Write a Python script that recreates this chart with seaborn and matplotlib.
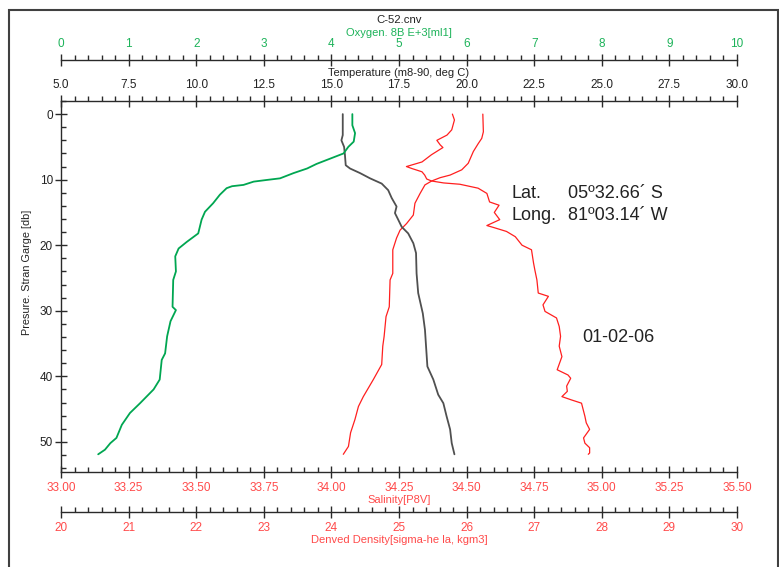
import matplotlib
matplotlib.use("Agg")
import matplotlib.pyplot as plt
from matplotlib.ticker import MultipleLocator, FormatStrFormatter
from matplotlib.patches import Rectangle
import seaborn as sns

# ---- profiles (pressure in db) ----
oxy_pres = [0, 1.7, 2.9, 4.2, 5.0, 6.0, 6.6, 7.0, 7.6, 8.3, 9.0, 9.8, 10.05, 10.3, 10.8, 11.0,
            11.3, 12.3, 13.6, 14.9, 16.1, 18.2, 19.5, 20.5, 21.7, 24.0, 25.3, 29.4, 29.9, 31.6,
            33.9, 36.5, 37.5, 40.5, 42.0, 44.1, 45.6, 47.4, 49.4, 50.2, 51.2, 51.9]
oxy_val = [4.31, 4.31, 4.35, 4.33, 4.25, 4.18, 4.03, 3.93, 3.78, 3.64, 3.44, 3.24, 3.04, 2.85,
           2.70, 2.53, 2.45, 2.35, 2.25, 2.13, 2.08, 2.03, 1.86, 1.74, 1.69, 1.70, 1.66, 1.65,
           1.70, 1.62, 1.57, 1.54, 1.49, 1.46, 1.37, 1.17, 1.02, 0.90, 0.82, 0.73, 0.65, 0.55]

temp_pres = [0, 3.2, 4.0, 5.0, 6.2, 7.8, 8.3, 9.0, 9.8, 10.6, 11.6, 12.8, 14.1, 15.1, 16.1, 17.2,
             18.2, 19.7, 21.2, 24.3, 27.3, 30.4, 32.9, 35.4, 38.5, 40.5, 42.8, 44.1, 46.1, 48.1,
             50.2, 51.9]
temp_val = [15.42, 15.42, 15.37, 15.47, 15.50, 15.53, 15.69, 16.06, 16.43, 16.86, 17.10, 17.23,
            17.41, 17.35, 17.47, 17.60, 17.84, 18.03, 18.13, 18.15, 18.21, 18.38, 18.46, 18.50,
            18.55, 18.77, 18.95, 19.14, 19.26, 19.39, 19.45, 19.55]

sal_pres = [0, 2.7, 3.7, 4.5, 5.7, 7.5, 8.5, 9.3, 9.7, 10.2, 10.8, 12.1, 13.6, 15.4, 16.7, 17.7,
            18.9, 20.7, 24.3, 25.3, 29.4, 30.9, 33.9, 35.4, 38.2, 40.5, 43.1, 44.6, 46.6, 48.6,
            50.7, 51.9]
sal_val = [34.560, 34.562, 34.556, 34.543, 34.525, 34.506, 34.482, 34.439, 34.402, 34.371,
           34.346, 34.328, 34.309, 34.303, 34.278, 34.254, 34.241, 34.227, 34.227, 34.217,
           34.214, 34.202, 34.195, 34.190, 34.186, 34.155, 34.118, 34.100, 34.087, 34.071,
           34.063, 34.044]

dens_pres = [0, 0.9, 2.4, 3.2, 4.0, 4.7, 5.1, 6.2, 7.3, 8.0, 8.3, 8.8, 9.3, 9.9, 10.2, 10.5,
             10.7, 11.1, 11.3, 12.1, 13.4, 13.9, 15.0, 16.1, 17.0, 17.3, 17.9, 18.7, 20.0, 20.7,
             22.7, 23.8, 25.3, 27.3, 27.8, 29.1, 30.1, 31.1, 32.4, 33.9, 35.4, 37.0, 39.0, 39.8,
             40.3, 41.5, 42.3, 43.1, 43.6, 44.1, 46.1, 47.1, 48.1, 49.4, 50.2, 50.9, 51.7, 51.9]
dens_val = [25.79, 25.82, 25.78, 25.71, 25.56, 25.61, 25.65, 25.48, 25.34, 25.11, 25.19, 25.34,
            25.38, 25.41, 25.48, 25.66, 25.90, 26.08, 26.17, 26.30, 26.34, 26.48, 26.41, 26.49,
            26.30, 26.40, 26.59, 26.72, 26.82, 26.96, 26.99, 27.01, 27.04, 27.06, 27.21, 27.13,
            27.16, 27.33, 27.37, 27.39, 27.37, 27.41, 27.34, 27.50, 27.54, 27.48, 27.49, 27.41,
            27.55, 27.70, 27.75, 27.77, 27.82, 27.73, 27.75, 27.82, 27.82, 27.80]

GREEN = "#00a651"
GREEN_TXT = "#1db35a"
RED = "#ff1f1f"
RED_TXT = "#ff4a4a"
GREY = "#505050"
AXC = "#2a2a2a"

sns.set_style("white")
plt.rcParams["font.family"] = ["Liberation Sans", "DejaVu Sans"]

fig = plt.figure(figsize=(7.79, 5.67), dpi=100)
ax = fig.add_axes([61 / 779, 1 - 472 / 567, 676 / 779, 371 / 567])
ax_den = ax.twiny()
ax_tmp = ax.twiny()
ax_oxy = ax.twiny()

sns.lineplot(x=sal_val, y=sal_pres, sort=False, estimator=None, ax=ax, color=RED, lw=0.9)
sns.lineplot(x=dens_val, y=dens_pres, sort=False, estimator=None, ax=ax_den, color=RED, lw=0.9)
sns.lineplot(x=temp_val, y=temp_pres, sort=False, estimator=None, ax=ax_tmp, color=GREY, lw=1.3)
sns.lineplot(x=oxy_val, y=oxy_pres, sort=False, estimator=None, ax=ax_oxy, color=GREEN, lw=1.3)

ax.set_ylim(54.6, -2)
ax.set_xlim(33, 35.5)
ax_den.set_xlim(20, 30)
ax_tmp.set_xlim(5, 30)
ax_oxy.set_xlim(0, 10)

for a in (ax, ax_den, ax_tmp, ax_oxy):
    for s in a.spines.values():
        s.set_visible(False)
        s.set_color(AXC)
        s.set_linewidth(1.0)
    a.patch.set_visible(False)

ax.spines["left"].set_visible(True)
ax.spines["bottom"].set_visible(True)
ax_tmp.spines["top"].set_visible(True)
ax_oxy.spines["top"].set_visible(True)
ax_oxy.spines["top"].set_position(("outward", 41 * 0.72))
ax_den.spines["bottom"].set_visible(True)
ax_den.spines["bottom"].set_position(("outward", 40 * 0.72))
ax_den.xaxis.set_ticks_position("bottom")
ax_den.xaxis.set_label_position("bottom")


def style_x(a, major, minor, fmt, color, top):
    a.xaxis.set_major_locator(MultipleLocator(major))
    a.xaxis.set_minor_locator(MultipleLocator(minor))
    a.xaxis.set_major_formatter(FormatStrFormatter(fmt))
    a.tick_params(axis="x", which="major", direction="inout", length=9, width=1.0,
                  color=AXC, labelcolor=color, labelsize=8.5, pad=2.4,
                  top=top, bottom=not top, labeltop=top, labelbottom=not top)
    a.tick_params(axis="x", which="minor", direction="out" if top else "in", length=3.6,
                  width=1.0, color=AXC, top=top, bottom=not top)


style_x(ax, 0.25, 0.05, "%.2f", RED_TXT, False)
style_x(ax_den, 1, 0.2, "%d", RED_TXT, False)
style_x(ax_tmp, 2.5, 0.5, "%.1f", "#222222", True)
style_x(ax_oxy, 1, 0.2, "%d", GREEN_TXT, True)

ax.yaxis.set_major_locator(MultipleLocator(10))
ax.yaxis.set_minor_locator(MultipleLocator(2))
ax.tick_params(axis="y", which="major", direction="inout", length=9, width=1.0, color=AXC,
               labelcolor="#222222", labelsize=8.5, pad=1.3, left=True)
ax.tick_params(axis="y", which="minor", direction="in", length=3.6, width=1.0, color=AXC, left=True)

ax.set_xlabel("Salinity[P8V]", fontsize=8, color=RED_TXT)
ax_den.set_xlabel("Denved Density[sigma-he la, kgm3]", fontsize=8, color=RED_TXT)
ax_tmp.set_xlabel("Temperature (m8-90, deg C)", fontsize=8, color="#222222")
ax_oxy.set_xlabel("Oxygen. 8B E+3[ml1]", fontsize=8, color=GREEN_TXT)
ax.set_ylabel("Presure. Stran Garge [db]", fontsize=7.8, color="#222222")
for a, yy in ((ax, -28 / 371), (ax_den, -68 / 371), (ax_tmp, 1 + 28 / 371), (ax_oxy, 1 + 68 / 371)):
    a.xaxis.set_label_coords(0.5, yy)
    a.xaxis.label.set_va("center")
ax.yaxis.set_label_coords(-34 / 676, 1 - (272 - 101) / 371)
ax.yaxis.label.set_va("center")

ax.text(0.5, 1 + 81 / 371, "C-52.cnv", transform=ax.transAxes, ha="center", va="center",
        fontsize=8.2, color="#222222")

ax.text(0.6657, 1 - 93 / 371, "Lat.", transform=ax.transAxes, va="center", fontsize=13, color="#222222")
ax.text(0.75, 1 - 93 / 371, "05º32.66´ S", transform=ax.transAxes, va="center", fontsize=13, color="#222222")
ax.text(0.6657, 1 - 114 / 371, "Long.", transform=ax.transAxes, va="center", fontsize=13, color="#222222")
ax.text(0.75, 1 - 114 / 371, "81º03.14´ W", transform=ax.transAxes, va="center", fontsize=13, color="#222222")
ax.text(0.7707, 1 - 236 / 371, "01-02-06", transform=ax.transAxes, va="center", fontsize=13, color="#222222")

fig.patches.append(Rectangle((9 / 779, -0.05), 769 / 779, 1 - 10 / 567 + 0.05, transform=fig.transFigure,
                             fill=False, edgecolor="#404040", lw=1.5, clip_on=False))

fig.savefig("out.png", dpi=100)
